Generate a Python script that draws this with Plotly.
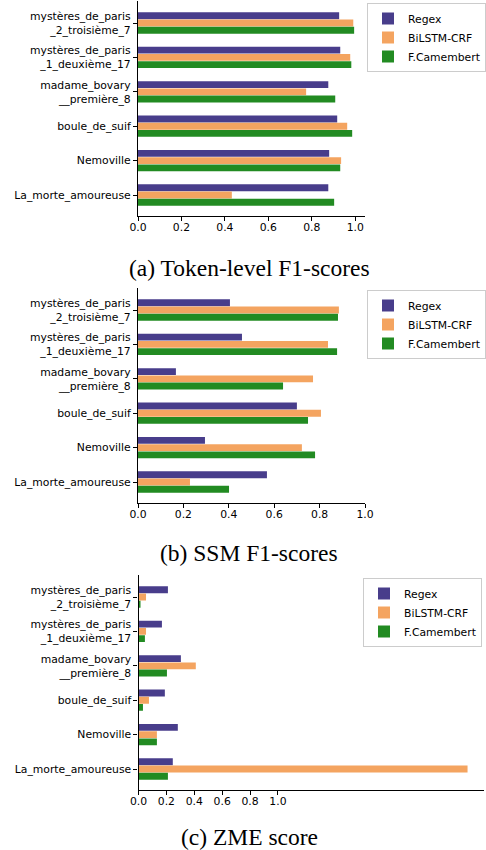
import plotly.graph_objects as go

categories = [
    "mystères_de_paris<br>_2_troisième_7",
    "mystères_de_paris<br>_1_deuxième_17",
    "madame_bovary<br>__première_8",
    "boule_de_suif",
    "Nemoville",
    "La_morte_amoureuse",
]
series_names = ["Regex", "BiLSTM-CRF", "F.Camembert"]
colors = ["#483D8B", "#F4A460", "#228B22"]

# (a) Token-level F1-scores
token_regex = [0.926, 0.931, 0.876, 0.917, 0.880, 0.876]
token_bilstm = [0.991, 0.977, 0.774, 0.963, 0.935, 0.432]
token_camembert = [0.995, 0.982, 0.908, 0.986, 0.931, 0.903]

# (b) SSM F1-scores
ssm_regex = [0.405, 0.458, 0.167, 0.700, 0.295, 0.568]
ssm_bilstm = [0.885, 0.837, 0.771, 0.806, 0.722, 0.229]
ssm_camembert = [0.881, 0.877, 0.639, 0.749, 0.780, 0.401]

# (c) ZME score
zme_regex = [0.211, 0.168, 0.304, 0.189, 0.282, 0.246]
zme_bilstm = [0.054, 0.054, 0.411, 0.075, 0.132, 2.36]
zme_camembert = [0.011, 0.046, 0.204, 0.032, 0.132, 0.211]

x_ticks = [0.0, 0.2, 0.4, 0.6, 0.8, 1.0]
captions = ["(a) Token-level F1-scores", "(b) SSM F1-scores", "(c) ZME score"]

panels = [
    [token_regex, token_bilstm, token_camembert],
    [ssm_regex, ssm_bilstm, ssm_camembert],
    [zme_regex, zme_bilstm, zme_camembert],
]

W, H = 486, 850
FONT = "DejaVu Sans"
FS = 10.8

# pixel layout of the three panels: (left, right, top, bottom)
boxes = [(138, 365, 1, 216), (138, 365, 288, 503), (138.5, 484, 575, 790)]
xranges = [[0, 1.045], [0, 1.0], [0, 2.478]]
legend_pos = [(367, 3), (367, 290), (363, 578)]
caption_y = [268, 553, 837]

fig = go.Figure()
legend_ids = ["legend", "legend2", "legend3"]

for p, vals in enumerate(panels):
    ax = "" if p == 0 else str(p + 1)
    for s, (name, col) in enumerate(zip(series_names, colors)):
        fig.add_trace(go.Bar(
            x=vals[s], y=categories, orientation="h", name=name,
            marker=dict(color=col, line=dict(width=0)),
            xaxis="x" + ax, yaxis="y" + ax, legend=legend_ids[p],
        ))

layout = dict(
    width=W, height=H, autosize=False,
    margin=dict(l=0, r=0, t=0, b=0, pad=0, autoexpand=False),
    plot_bgcolor="white", paper_bgcolor="white",
    barmode="group", bargap=0.37, bargroupgap=0.05,
    font=dict(family=FONT, size=FS, color="black"),
    annotations=[], showlegend=True,
)

for p in range(3):
    ax = "" if p == 0 else str(p + 1)
    l, r, t, b = boxes[p]
    layout["xaxis" + ax] = dict(
        domain=[l / W, r / W], range=xranges[p], anchor="y" + ax,
        tickvals=x_ticks, tickformat=".1f", automargin=False,
        showline=True, linecolor="black", linewidth=1.3,
        ticks="outside", ticklen=4, tickwidth=1, tickcolor="black",
        ticklabelstandoff=-3,
        showgrid=False, zeroline=False,
        tickfont=dict(family=FONT, size=FS, color="black"),
    )
    layout["yaxis" + ax] = dict(
        domain=[1 - b / H, 1 - t / H], range=[5.61, -0.64], anchor="x" + ax,
        type="category", categoryorder="array", categoryarray=categories,
        automargin=False,
        showline=True, linecolor="black", linewidth=1.3,
        ticks="outside", ticklen=4, tickwidth=1, tickcolor="black",
        showgrid=False, zeroline=False,
        tickfont=dict(family=FONT, size=FS, color="black"),
    )
    lx, ly = legend_pos[p]
    layout[legend_ids[p]] = dict(
        x=lx / W, y=1 - ly / H, xanchor="left", yanchor="top",
        bordercolor="#cccccc", borderwidth=1, bgcolor="rgba(255,255,255,0.8)",
        font=dict(family=FONT, size=FS, color="black"), tracegroupgap=0,
        itemwidth=30,
    )
    layout["annotations"].append(dict(
        text=captions[p], x=249 / W, y=1 - caption_y[p] / H,
        xref="paper", yref="paper", xanchor="center", yanchor="middle",
        showarrow=False, font=dict(family="Liberation Serif", size=23.5, color="black"),
    ))

fig.update_layout(**layout)
fig.write_html(
    "out.html",
    config={"displayModeBar": False},
    post_script="document.body.style.margin='0';document.body.style.overflow='hidden';",
)
